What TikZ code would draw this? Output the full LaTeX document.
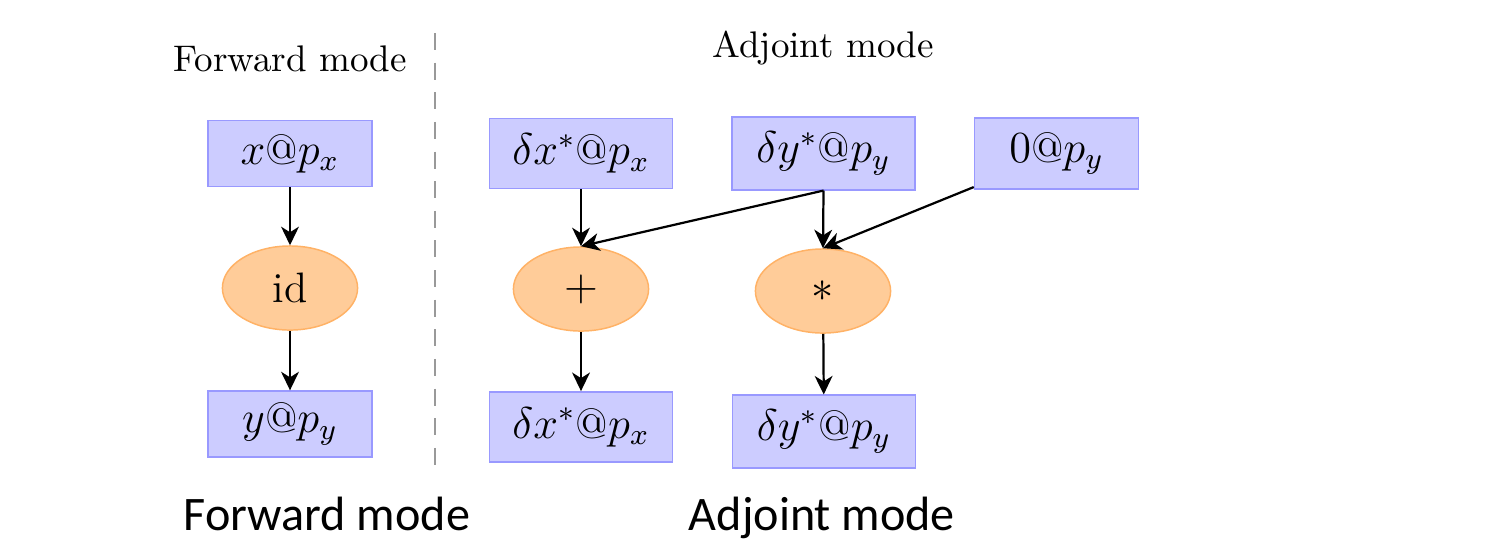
\documentclass[tikz,border=0pt]{standalone}
\usepackage{fontspec}
\newfontfamily\capfont{Carlito}
\usetikzlibrary{shapes.geometric,arrows.meta}
\tikzset{
  var/.style={draw=blue!40, fill=blue!20, minimum width=44.3pt, minimum height=17.8pt, inner sep=2pt, font=\fontsize{11.5}{14}\selectfont},
  adjvar/.style={var, minimum width=49.5pt, minimum height=19pt},
  op/.style={ellipse, draw=orange!60, fill=orange!40, minimum width=36.5pt, minimum height=22.7pt, inner sep=1pt, font=\fontsize{11.5}{14}\selectfont},
  flow/.style={-{Stealth[length=5pt,width=4.8pt,inset=1.5pt]}, semithick}
}
\begin{document}
\begin{tikzpicture}[x=0.27pt,y=-0.27pt]
            \useasboundingbox (0,0) rectangle (1491,540);
            % forward mode
            \node [anchor=base] (fwdtitle) at (290,71) {Forward mode};
            \node [var] (x) at (290,153.5) {$x@p_{x}$};
            \node [op] (id) at (290,288) {id};
            \node [var] (y) at (290,424) {$y@p_{y}$};
            \draw [flow] (x) -- (id);
            \draw [flow] (id) -- (y);
            % separator
            \coordinate (septop) at (435,33);
            \coordinate (sepbot) at (435,466);
            \draw [gray!80, dashed, dash pattern=on 4.6pt off 3.4pt, line width=0.5pt] (septop) -- (sepbot);
            % adjoint mode
            \node [anchor=base] (adjtitle) at (823,57) {Adjoint mode};
            \node [adjvar] (dx) at (581,153.5) {$\delta x^{*}@p_{x}$};
            \node [adjvar, minimum height=19.6pt] (dy) at (823.5,153.5) {$\delta y^{*}@p_{y}$};
            \node [var, minimum height=19.2pt] (zero) at (1056.5,153.5) {$0@p_{y}$};
            \node [op] (plus) at (581,289) {$+$};
            \node [op] (mul) at (823,291) {$*$};
            \node [adjvar] (dxout) at (581,427) {$\delta x^{*}@p_{x}$};
            \node [adjvar, minimum height=19.6pt] (dyout) at (824,431.5) {$\delta y^{*}@p_{y}$};
            \draw [flow] (dx) -- (plus);
            \draw [flow] (dy.south) -- (plus.north);
            \draw [flow] (dy.south) -- (mul.north);
            \draw [flow] (zero) -- (mul.north);
            \draw [flow] (plus) -- (dxout);
            \draw [flow] (mul) -- (dyout);
            % captions
            \node [anchor=base, font=\capfont\fontsize{13}{15}\selectfont] (fwdcap) at (327,530) {Forward mode};
            \node [anchor=base, font=\capfont\fontsize{13}{15}\selectfont] (adjcap) at (822,530) {Adjoint mode};
\end{tikzpicture}
\end{document}
